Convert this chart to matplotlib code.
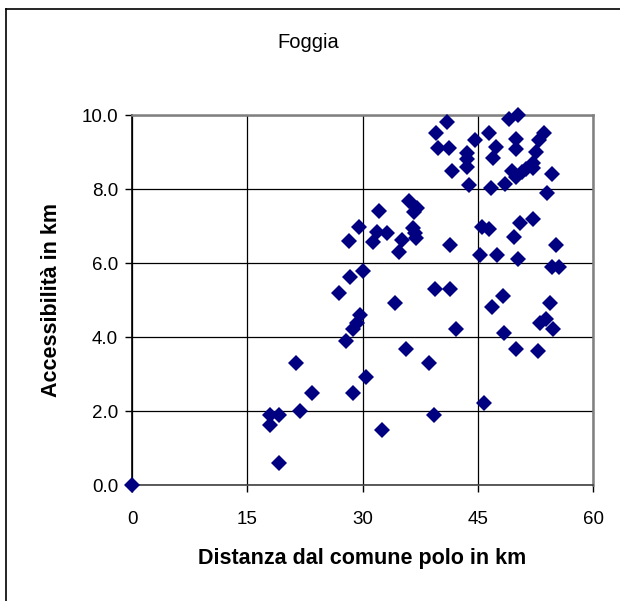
import matplotlib
matplotlib.use("Agg")
import matplotlib.pyplot as plt
from matplotlib.lines import Line2D

plt.rcParams["font.family"] = ["Liberation Sans", "DejaVu Sans"]

NAVY = "#000080"
GRAY = "#808080"

# distance from the hub municipality (km) vs accessibility (km)
distanza = [0.0, 18.0, 19.1, 18.0, 19.1, 21.9, 21.4, 23.4, 28.7, 27.9,
            28.8, 29.3, 29.7, 26.9, 28.4, 30.0, 28.2, 29.5, 30.5, 32.6,
            31.4, 31.9, 33.2, 32.1, 34.2, 34.7, 35.2, 35.7, 36.0, 37.1,
            36.7, 36.6, 36.8, 37.0, 38.6, 39.3, 39.4, 41.4, 41.4, 39.6,
            41.0, 39.8, 41.2, 41.7, 42.2, 43.6, 43.6, 43.6, 43.8, 44.6,
            45.5, 46.5, 45.3, 45.8, 46.4, 46.7, 47.0, 47.4, 47.5, 46.9,
            48.3, 48.4, 48.5, 49.1, 50.3, 49.4, 49.7, 50.0, 50.0, 50.0,
            50.7, 50.5, 50.3, 50.0, 52.2, 52.2, 52.2, 52.6, 53.0, 53.6,
            52.9, 53.1, 53.9, 54.0, 54.7, 54.4, 54.6, 55.6, 55.2, 54.8,
            51.3]
accessibilita = [0.0, 1.89, 1.89, 1.62, 0.60, 2.00, 3.29, 2.48, 2.48, 3.89,
                 4.21, 4.37, 4.59, 5.20, 5.62, 5.78, 6.60, 6.98, 2.91, 1.50,
                 6.58, 6.85, 6.82, 7.41, 4.92, 6.31, 6.62, 3.67, 7.68, 7.50,
                 7.39, 6.94, 6.80, 6.68, 3.29, 1.89, 5.30, 5.30, 6.49, 9.52,
                 9.80, 9.10, 9.10, 8.50, 4.21, 8.96, 8.81, 8.60, 8.11, 9.32,
                 6.98, 6.91, 6.22, 2.21, 9.52, 8.02, 8.83, 9.13, 6.22, 4.82,
                 5.10, 4.12, 8.13, 9.89, 10.00, 8.50, 6.71, 9.35, 9.08, 8.33,
                 8.47, 7.09, 6.10, 3.67, 7.18, 8.69, 8.58, 9.01, 9.32, 9.52,
                 3.62, 4.39, 4.48, 7.90, 8.40, 4.93, 5.90, 5.90, 6.50, 4.21,
                 8.55]

x_ticks = [0, 15, 30, 45, 60]
y_ticks = [0, 2, 4, 6, 8, 10]

W, H = 620, 601
fig = plt.figure(figsize=(W / 100, H / 100), dpi=100)
ax = fig.add_axes([132 / W, (H - 485) / H, 461 / W, 370 / H])

ax.plot(distanza, accessibilita, "D", color=NAVY, markersize=8.5,
        markeredgewidth=0, clip_on=False, zorder=5)

ax.set_xlim(0, 60)
ax.set_ylim(0, 10)
ax.set_xticks(x_ticks)
ax.set_yticks(y_ticks)
ax.set_xticklabels([str(t) for t in x_ticks])
ax.set_yticklabels([f"{t:.1f}" for t in y_ticks])
ax.grid(True, color="black", linewidth=0.9)
ax.set_axisbelow(True)

ax.spines["left"].set_color("black")
ax.spines["left"].set_linewidth(1.2)
ax.spines["bottom"].set_color("#404040")
ax.spines["bottom"].set_linewidth(1.2)
for s in ("top", "right"):
    ax.spines[s].set_color(GRAY)
    ax.spines[s].set_linewidth(1.8)

ax.tick_params(axis="x", direction="out", length=5, width=1,
               pad=14, labelsize=13.5)
ax.tick_params(axis="y", direction="out", length=5, width=1,
               pad=5, labelsize=13.5)

ax.set_xlabel("Distanza dal comune polo in km", fontsize=15.5,
              fontweight="bold", labelpad=14)
ax.set_ylabel("Accessibilità in km", fontsize=15.5,
              fontweight="bold", labelpad=14)

fig.text(308 / W, 1 - 43 / H, "Foggia", ha="center", va="center",
         fontsize=14.5)

# outer chart frame (only top and left edges visible)
fig.add_artist(Line2D([6 / W, 6 / W], [0, 1 - 9 / H],
                      transform=fig.transFigure, color="black", lw=1.2))
fig.add_artist(Line2D([6 / W, 1], [1 - 9 / H, 1 - 9 / H],
                      transform=fig.transFigure, color="black", lw=1.2))

fig.savefig("out.png", dpi=100)
